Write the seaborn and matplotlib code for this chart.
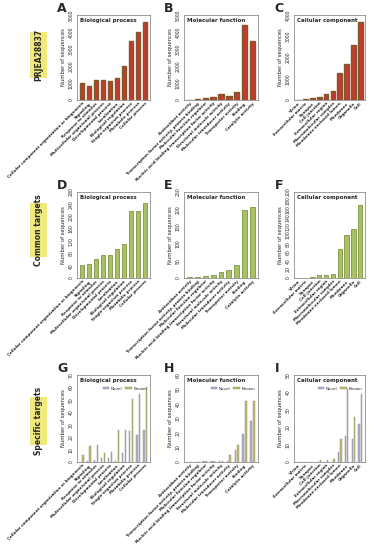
import numpy as np
import pandas as pd
import matplotlib
matplotlib.use('Agg')
import matplotlib.pyplot as plt
import seaborn as sns

# --- GO terms ---
bp_terms = ['Cellular component organization or biogenesis', 'Signaling', 'Response to stimulus',
            'Multicellular organismal process', 'Developmental process', 'Localization',
            'Biological regulation', 'Single-organism process', 'Metabolic process', 'Cellular process']
mf_terms = ['Antioxidant activity', 'Transcription factor activity, protein binding',
            'Molecular function regulator', 'Nucleic acid binding transcription factor activity',
            'Structural molecule activity', 'Molecular transducer activity', 'Transporter activity',
            'Binding', 'Catalytic activity']
cc_terms = ['Virion', 'Extracellular matrix', 'Synapse', 'Cell junction', 'Extracellular region',
            'Macromolecular complex', 'Membrane-enclosed lumen', 'Membrane', 'Organelle', 'Cell']

# --- PRJEA28837 ---
prj_bp = [1000, 800, 1200, 1150, 1100, 1300, 2000, 3500, 4000, 4600]
prj_mf = [10, 30, 100, 200, 330, 250, 470, 4400, 3500]
prj_cc = [15, 30, 100, 120, 290, 430, 1250, 1700, 2600, 3650]

# --- Common targets ---
common_bp = [41, 47, 62, 75, 75, 93, 111, 219, 219, 245]
common_mf = [2, 3, 6, 9, 18, 22, 38, 198, 207]
common_cc = [1, 1, 2, 6, 8, 10, 67, 99, 115, 170]

# --- Specific targets ---
novel_bp = [0, 0.5, 2, 3, 3, 0.5, 7, 25, 22, 26]
known_bp = [6, 13, 14, 7, 8, 26, 26, 51, 55, 60]
novel_mf = [0, 0, 0.5, 1, 0.5, 1, 8, 19, 28]
known_mf = [0, 0.3, 1, 1, 1, 5, 12, 42, 42]
novel_cc = [0, 0, 0, 0, 0, 0, 6, 15, 13, 22]
known_cc = [0, 0, 0, 1, 1, 2, 13, 42, 26, 39]

red = '#c8392e'
red_edge = '#7a5a2a'
green = '#a9c163'
green_edge = '#7f9643'
novel_col = '#aeb0d8'
known_col = '#c4bc62'

W, H = 373, 550
fig = plt.figure(figsize=(W / 100, H / 100), dpi=100)
sns.set_style('white')
plt.rcParams['font.family'] = ['DejaVu Sans']

def px_axes(x0, x1, y0, y1):
    return fig.add_axes([x0 / W, 1 - y1 / H, (x1 - x0) / W, (y1 - y0) / H])

cols = [(77, 150), (184, 258), (294, 365)]
rows = [(15, 100), (192, 278), (375, 462)]
letters = ['ABC', 'DEF', 'GHI']
titles = ['Biological process', 'Molecular function', 'Cellular component']
terms = [bp_terms, mf_terms, cc_terms]

def style_axes(ax, ymax, step, title, letter, term_list):
    ax.set_ylim(0, ymax)
    ticks = np.arange(0, ymax + 0.1, step)
    ax.set_yticks(ticks)
    ax.set_yticklabels([f'{int(v)}' for v in ticks], rotation=90, va='center', fontsize=3.3)
    ax.tick_params(axis='y', length=1.5, width=0.4, pad=1)
    ax.tick_params(axis='x', length=0, pad=1)
    ax.set_xticks(range(len(term_list)))
    ax.set_xticklabels(term_list, rotation=45, ha='right', rotation_mode='anchor',
                       fontsize=2.9, fontweight='bold')
    ax.set_xlabel('')
    ax.set_ylabel('Number of sequences', fontsize=3.8, labelpad=2)
    for s in ax.spines.values():
        s.set_linewidth(0.4)
        s.set_color('#555555')
    ax.text(0.04, 0.96, title, transform=ax.transAxes, fontsize=4.0,
            fontweight='bold', va='top', ha='left')
    ax.text(-0.27, 1.0, letter, transform=ax.transAxes, fontsize=9,
            fontweight='bold', va='bottom', ha='left')

# row 1
prj_sets = [(prj_bp, 5000, 1000), (prj_mf, 5000, 1000), (prj_cc, 4000, 1000)]
for j, (vals, ymax, step) in enumerate(prj_sets):
    ax = px_axes(*cols[j], *rows[0])
    df = pd.DataFrame({'term': terms[j], 'n': vals})
    sns.barplot(data=df, x='term', y='n', ax=ax, color=red, width=0.68,
                edgecolor=red_edge, linewidth=1.0, saturation=1)
    ax.set_xlim(-0.7, len(vals) - 0.3)
    style_axes(ax, ymax, step, titles[j], letters[0][j], terms[j])

# row 2
common_sets = [(common_bp, 280, 40), (common_mf, 250, 50), (common_cc, 200, 20)]
for j, (vals, ymax, step) in enumerate(common_sets):
    ax = px_axes(*cols[j], *rows[1])
    df = pd.DataFrame({'term': terms[j], 'n': vals})
    sns.barplot(data=df, x='term', y='n', ax=ax, color=green, width=0.62,
                edgecolor=green_edge, linewidth=0.6, saturation=1)
    ax.set_xlim(-0.7, len(vals) - 0.3)
    style_axes(ax, ymax, step, titles[j], letters[1][j], terms[j])

# row 3
spec_sets = [(novel_bp, known_bp, 70, 10), (novel_mf, known_mf, 60, 10), (novel_cc, known_cc, 50, 10)]
for j, (nv, kn, ymax, step) in enumerate(spec_sets):
    ax = px_axes(*cols[j], *rows[2])
    df = pd.DataFrame({'term': terms[j] * 2, 'n': nv + kn,
                       'type': ['Novel'] * len(nv) + ['Known'] * len(kn)})
    sns.barplot(data=df, x='term', y='n', hue='type', ax=ax,
                palette={'Novel': novel_col, 'Known': known_col},
                width=0.7, gap=0.45, edgecolor='#888888', linewidth=0.3, saturation=1)
    ax.set_xlim(-0.7, len(nv) - 0.3)
    style_axes(ax, ymax, step, titles[j], letters[2][j], terms[j])
    ax.legend(title=None, loc='upper right', bbox_to_anchor=(1.0, 0.9), ncol=2,
              fontsize=3.0, frameon=False, handlelength=1.6, handleheight=0.5,
              columnspacing=0.8, handletextpad=0.3, borderpad=0.2)

# side labels
side = [('PRJEA28837', 32, 78), ('Common targets', 203, 257), ('Specific targets', 397, 445)]
for txt, y0, y1 in side:
    bx = fig.add_axes([30 / W, 1 - y1 / H, 17 / W, (y1 - y0) / H])
    bx.set_facecolor('#efe97e')
    bx.set_xticks([])
    bx.set_yticks([])
    for s in bx.spines.values():
        s.set_visible(False)
    bx.text(0.5, 0.5, txt, rotation=90, ha='center', va='center',
            fontsize=5.5, fontweight='bold', transform=bx.transAxes)

fig.savefig('out.png', dpi=100)
